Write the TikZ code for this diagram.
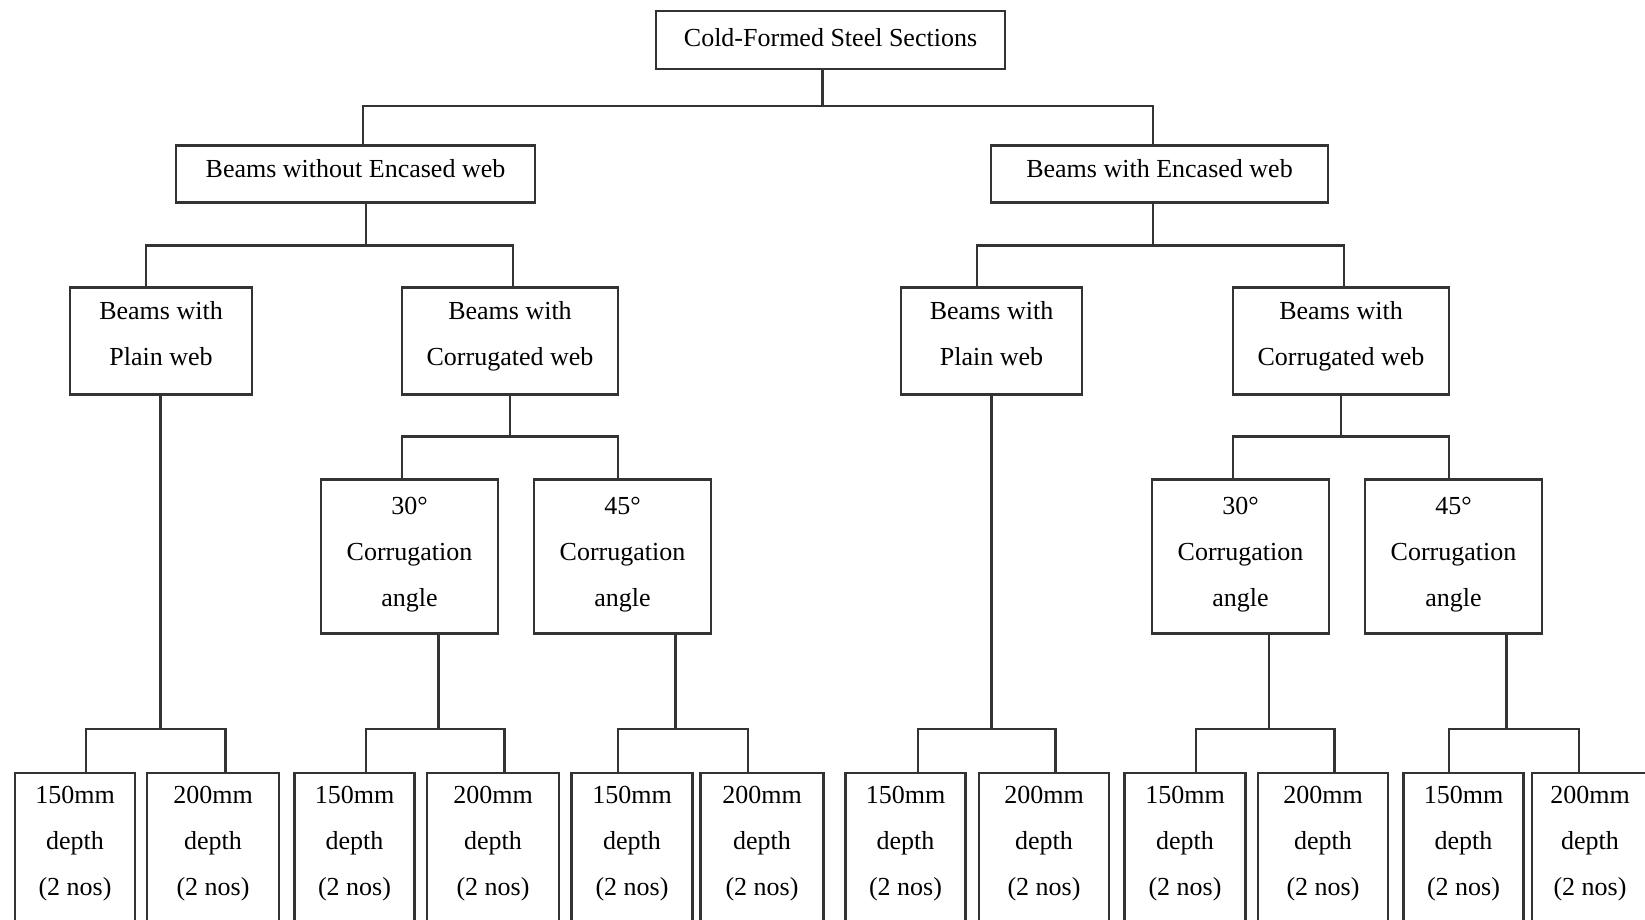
\documentclass[tikz,border=0pt]{standalone}
\usepackage{fontspec}
\setmainfont{Liberation Serif}
\usepackage{tikz}

\newcommand{\padbelow}[1]{\rule[-#1]{0pt}{#1}}

\tikzset{
    box/.style={draw=black!80, line width=2.3pt, align=center, inner sep=0pt, font=\fontsize{26}{46}\selectfont},
    leaf/.style={draw=black!80, line width=2.3pt, anchor=north, minimum height=200pt},
    leaftext/.style={align=center, inner sep=0pt, font=\fontsize{26}{46}\selectfont},
    link/.style={draw=black!80, line width=2.3pt},
}

\begin{document}
\begin{tikzpicture}[x=1pt, y=-1pt]
        \useasboundingbox (0,0) rectangle (1645,920);
        \clip (0,0) rectangle (1645,920);

        \node[box, minimum width=349pt, minimum height=58pt] (root) at (830.5,40) {Cold-Formed Steel Sections\padbelow{6pt}};

        \node[box, minimum width=359pt, minimum height=57pt] (bwo) at (355.5,174) {Beams without Encased web\padbelow{12pt}};
        \node[box, minimum width=337pt, minimum height=57pt] (bwe) at (1159.5,174) {Beams with Encased web\padbelow{12pt}};

        \node[box, minimum width=182pt, minimum height=107pt] (pl) at (161,341) {Beams with\\Plain web\padbelow{15pt}};
        \node[box, minimum width=216pt, minimum height=107pt] (cl) at (510,341) {Beams with\\Corrugated web\padbelow{15pt}};
        \node[box, minimum width=181pt, minimum height=107pt] (pr) at (991.5,341) {Beams with\\Plain web\padbelow{15pt}};
        \node[box, minimum width=216pt, minimum height=107pt] (cr) at (1341,341) {Beams with\\Corrugated web\padbelow{15pt}};

        \node[box, minimum width=177pt, minimum height=154pt] (a30l) at (409.5,556.5) {30°\\Corrugation\\angle\padbelow{10pt}};
        \node[box, minimum width=177pt, minimum height=154pt] (a45l) at (622.5,556.5) {45°\\Corrugation\\angle\padbelow{10pt}};
        \node[box, minimum width=177pt, minimum height=154pt] (a30r) at (1240.5,556.5) {30°\\Corrugation\\angle\padbelow{10pt}};
        \node[box, minimum width=177pt, minimum height=154pt] (a45r) at (1453.5,556.5) {45°\\Corrugation\\angle\padbelow{10pt}};

        \node[leaf, minimum width=120pt] (d1) at (75,772) {};
        \node[leaf, minimum width=132pt] (d2) at (213,772) {};
        \node[leaf, minimum width=120pt] (d3) at (354.5,772) {};
        \node[leaf, minimum width=132pt] (d4) at (493,772) {};
        \node[leaf, minimum width=121pt] (d5) at (632,772) {};
        \node[leaf, minimum width=123pt] (d6) at (762,772) {};
        \node[leaf, minimum width=120pt] (d7) at (905.5,772) {};
        \node[leaf, minimum width=130pt] (d8) at (1044,772) {};
        \node[leaf, minimum width=121pt] (d9) at (1185,772) {};
        \node[leaf, minimum width=130pt] (d10) at (1323,772) {};
        \node[leaf, minimum width=120pt] (d11) at (1463.5,772) {};
        \node[leaf, minimum width=130pt] (d12) at (1597,772) {};

        \node[leaftext] (t1) at (75,844) {150mm\\depth\\(2 nos)};
        \node[leaftext] (t2) at (213,844) {200mm\\depth\\(2 nos)};
        \node[leaftext] (t3) at (354.5,844) {150mm\\depth\\(2 nos)};
        \node[leaftext] (t4) at (493,844) {200mm\\depth\\(2 nos)};
        \node[leaftext] (t5) at (632,844) {150mm\\depth\\(2 nos)};
        \node[leaftext] (t6) at (762,844) {200mm\\depth\\(2 nos)};
        \node[leaftext] (t7) at (905.5,844) {150mm\\depth\\(2 nos)};
        \node[leaftext] (t8) at (1044,844) {200mm\\depth\\(2 nos)};
        \node[leaftext] (t9) at (1185,844) {150mm\\depth\\(2 nos)};
        \node[leaftext] (t10) at (1323,844) {200mm\\depth\\(2 nos)};
        \node[leaftext] (t11) at (1463.5,844) {150mm\\depth\\(2 nos)};
        \node[leaftext] (t12) at (1590,844) {200mm\\depth\\(2 nos)};

        \coordinate (b0) at (822.5,106);
        \draw[link] (root.south -| b0) -- (b0);
        \draw[link] ([xshift=7.5pt]bwo.north) |- (b0) -| ([xshift=-6.5pt]bwe.north);

        \coordinate (b1) at (366,245.5);
        \draw[link] (bwo.south -| b1) -- (b1);
        \draw[link] ([xshift=-15pt]pl.north) |- (b1) -| ([xshift=3pt]cl.north);

        \coordinate (b2) at (1153,245.5);
        \draw[link] (bwe.south -| b2) -- (b2);
        \draw[link] ([xshift=-14.5pt]pr.north) |- (b2) -| ([xshift=3pt]cr.north);

        \coordinate (b3) at (510,436.5);
        \draw[link] (cl.south -| b3) -- (b3);
        \draw[link] ([xshift=-7.5pt]a30l.north) |- (b3) -| ([xshift=-4.5pt]a45l.north);

        \coordinate (b4) at (1341,436.5);
        \draw[link] (cr.south -| b4) -- (b4);
        \draw[link] ([xshift=-7.5pt]a30r.north) |- (b4) -| ([xshift=-4.5pt]a45r.north);

        \coordinate (b5) at (160.5,729);
        \draw[link] (pl.south -| b5) -- (b5);
        \draw[link] ([xshift=11pt]d1.north) |- (b5) -| ([xshift=12.5pt]d2.north);

        \coordinate (b6) at (438.5,729);
        \draw[link] (a30l.south -| b6) -- (b6);
        \draw[link] ([xshift=11.5pt]d3.north) |- (b6) -| ([xshift=11.5pt]d4.north);

        \coordinate (b7) at (675.5,729);
        \draw[link] (a45l.south -| b7) -- (b7);
        \draw[link] ([xshift=-14pt]d5.north) |- (b7) -| ([xshift=-14pt]d6.north);

        \coordinate (b8) at (991.5,729);
        \draw[link] (pr.south -| b8) -- (b8);
        \draw[link] ([xshift=12.5pt]d7.north) |- (b8) -| ([xshift=11.5pt]d8.north);

        \coordinate (b9) at (1269,729);
        \draw[link] (a30r.south -| b9) -- (b9);
        \draw[link] ([xshift=11pt]d9.north) |- (b9) -| ([xshift=11.5pt]d10.north);

        \coordinate (b10) at (1506.5,729);
        \draw[link] (a45r.south -| b10) -- (b10);
        \draw[link] ([xshift=-14.5pt]d11.north) |- (b10) -| ([xshift=-18pt]d12.north);
\end{tikzpicture}
\end{document}
